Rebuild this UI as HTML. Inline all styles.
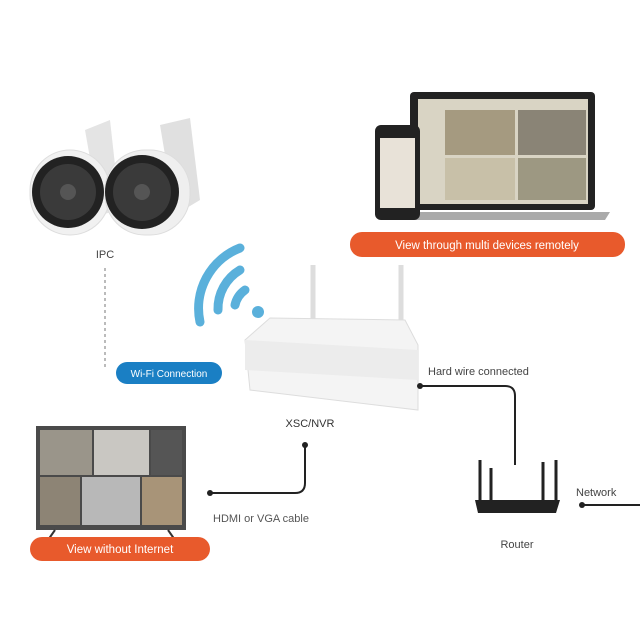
<!DOCTYPE html>
<html><head><style>
html,body{margin:0;padding:0;background:#fff;}
svg{display:block;}
text{font-family:"Liberation Sans",sans-serif;}
</style></head><body>
<svg width="640" height="640" viewBox="0 0 640 640">
<rect width="640" height="640" fill="#fff"/>
<!-- cameras -->
<g>
<path d="M85 130 L110 120 L120 210 L100 215Z" fill="#e4e4e4"/>
<path d="M160 125 L190 118 L200 200 L175 215Z" fill="#e0e0e0"/>
<rect x="30" y="150" width="80" height="85" rx="40" fill="#f1f1f1" stroke="#ddd"/>
<rect x="105" y="150" width="85" height="85" rx="40" fill="#efefef" stroke="#ddd"/>
<circle cx="68" cy="192" r="36" fill="#222"/>
<circle cx="68" cy="192" r="28" fill="#3a3a3a"/>
<circle cx="68" cy="192" r="8" fill="#555"/>
<circle cx="142" cy="192" r="37" fill="#222"/>
<circle cx="142" cy="192" r="29" fill="#3a3a3a"/>
<circle cx="142" cy="192" r="8" fill="#555"/>
</g>
<text x="105" y="258" font-size="11" fill="#444" text-anchor="middle">IPC</text>
<line x1="105" y1="268" x2="105" y2="368" stroke="#777" stroke-dasharray="3,3"/>
<rect x="116" y="362" width="106" height="22" rx="11" fill="#1a7fc4"/>
<text x="169" y="377" font-size="10" fill="#fff" text-anchor="middle">Wi-Fi Connection</text>
<!-- wifi -->
<g fill="none" stroke="#5ab0db" stroke-width="9" stroke-linecap="round">
<path d="M245 290 A25 25 0 0 0 235 305"/>
<path d="M240 270 A45 45 0 0 0 218 310"/>
<path d="M240 248 A65 65 0 0 0 200 322"/>
</g>
<circle cx="258" cy="312" r="6" fill="#5ab0db"/>
<!-- NVR -->
<line x1="313" y1="265" x2="313" y2="340" stroke="#ddd" stroke-width="5"/>
<line x1="401" y1="265" x2="401" y2="340" stroke="#ddd" stroke-width="5"/>
<path d="M245 340 L270 318 L405 320 L418 345 L418 410 L250 390Z" fill="#f4f4f4" stroke="#ddd"/>
<path d="M245 340 L418 350 L418 380 L245 370Z" fill="#ececec"/>
<text x="310" y="427" font-size="11" fill="#333" text-anchor="middle">XSC/NVR</text>
<!-- laptop -->
<rect x="410" y="92" width="185" height="118" rx="4" fill="#222"/>
<rect x="418" y="99" width="170" height="105" fill="#d9d4c4"/>
<rect x="445" y="110" width="70" height="45" fill="#a59a80"/>
<rect x="518" y="110" width="68" height="45" fill="#8a8476"/>
<rect x="445" y="158" width="70" height="42" fill="#c8c0a8"/>
<rect x="518" y="158" width="68" height="42" fill="#9d9882"/>
<path d="M395 212 L610 212 L605 220 L400 220Z" fill="#aaa"/>
<rect x="375" y="125" width="45" height="95" rx="6" fill="#222"/>
<rect x="380" y="138" width="35" height="70" fill="#e8e2d8"/>
<rect x="350" y="232" width="275" height="25" rx="12" fill="#e85a2c"/>
<text x="487" y="249" font-size="11.5" fill="#fff" text-anchor="middle">View through multi devices remotely</text>
<!-- wires -->
<text x="428" y="375" font-size="11" fill="#444">Hard wire connected</text>
<path d="M420 386 L505 386 Q515 386 515 396 L515 465" fill="none" stroke="#222" stroke-width="2"/>
<circle cx="420" cy="386" r="3" fill="#222"/>
<!-- router -->
<g stroke="#222" stroke-width="3">
<line x1="480" y1="460" x2="480" y2="500"/><line x1="491" y1="468" x2="491" y2="500"/>
<line x1="543" y1="462" x2="543" y2="500"/><line x1="556" y1="460" x2="556" y2="500"/>
</g>
<path d="M475 500 L560 500 L556 513 L478 513Z" fill="#222"/>
<text x="517" y="548" font-size="11" fill="#444" text-anchor="middle">Router</text>
<text x="576" y="496" font-size="11" fill="#444">Network</text>
<line x1="582" y1="505" x2="640" y2="505" stroke="#222" stroke-width="2"/>
<circle cx="582" cy="505" r="3" fill="#222"/>
<!-- TV -->
<rect x="36" y="426" width="150" height="104" fill="#4a4a4a"/>
<rect x="40" y="430" width="52" height="45" fill="#9a958a"/>
<rect x="94" y="430" width="55" height="45" fill="#c9c7c2"/>
<rect x="151" y="430" width="31" height="45" fill="#555"/>
<rect x="40" y="477" width="40" height="48" fill="#8d8475"/>
<rect x="82" y="477" width="58" height="48" fill="#b8b8b8"/>
<rect x="142" y="477" width="40" height="48" fill="#a89478"/>
<line x1="55" y1="530" x2="48" y2="540" stroke="#333" stroke-width="2"/>
<line x1="168" y1="530" x2="175" y2="540" stroke="#333" stroke-width="2"/>
<rect x="30" y="537" width="180" height="24" rx="12" fill="#e85a2c"/>
<text x="120" y="553" font-size="11.5" fill="#fff" text-anchor="middle">View without Internet</text>
<path d="M210 493 L295 493 Q305 493 305 483 L305 445" fill="none" stroke="#222" stroke-width="2"/>
<circle cx="210" cy="493" r="3" fill="#222"/>
<circle cx="305" cy="445" r="3" fill="#222"/>
<text x="213" y="522" font-size="11" fill="#555">HDMI or VGA cable</text>
</svg>
</body></html>
